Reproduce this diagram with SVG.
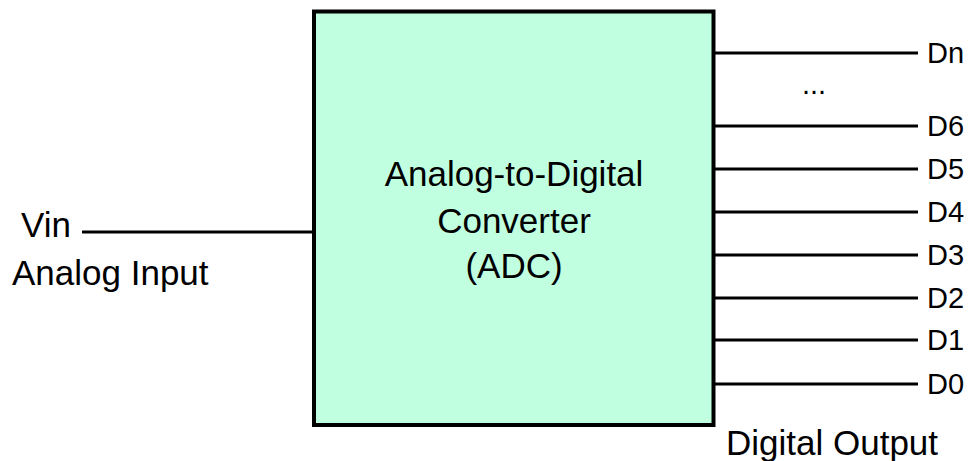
<svg xmlns="http://www.w3.org/2000/svg" width="968" height="461" viewBox="0 0 968 461">
  <style>
    .t { font-family: "Liberation Sans", Arial, sans-serif; fill: #000; }
    .lbl { font-size: 35px; }
    .pin { font-size: 29px; }
    .mid { font-size: 35px; text-anchor: middle; }
    .wire { stroke: #000; stroke-width: 3; fill: none; }
  </style>
  <rect width="968" height="461" fill="#fff"/>

  <!-- converter block -->
  <g id="adc">
    <rect x="314" y="11.5" width="399.5" height="413.5" fill="#c0ffe0" stroke="#000" stroke-width="4"/>
    <text class="t mid" x="514" y="186">Analog-to-Digital</text>
    <text class="t mid" x="514" y="233">Converter</text>
    <text class="t mid" x="514" y="278">(ADC)</text>
  </g>

  <!-- input side -->
  <g id="input">
    <text class="t lbl" x="21" y="237">Vin</text>
    <text class="t lbl" x="12" y="285">Analog Input</text>
  </g>

  <!-- output pins -->
  <g id="outputs">
    <text class="t pin" x="927" y="63">Dn</text>
    <text class="t pin" x="802" y="94">...</text>
    <text class="t pin" x="927" y="136">D6</text>
    <text class="t pin" x="927" y="179">D5</text>
    <text class="t pin" x="927" y="222">D4</text>
    <text class="t pin" x="927" y="265">D3</text>
    <text class="t pin" x="927" y="308">D2</text>
    <text class="t pin" x="927" y="350">D1</text>
    <text class="t pin" x="927" y="394">D0</text>
    <text class="t lbl" x="726" y="455">Digital Output</text>
  </g>

  <!-- connectors -->
  <g id="connectors" class="wire">
    <line x1="82" y1="232" x2="314" y2="232"/>
    <line x1="713" y1="53" x2="918" y2="53"/>
    <line x1="713" y1="126" x2="918" y2="126"/>
    <line x1="713" y1="169" x2="918" y2="169"/>
    <line x1="713" y1="212" x2="918" y2="212"/>
    <line x1="713" y1="255" x2="918" y2="255"/>
    <line x1="713" y1="298" x2="918" y2="298"/>
    <line x1="713" y1="340" x2="918" y2="340"/>
    <line x1="713" y1="384" x2="918" y2="384"/>
  </g>
</svg>
